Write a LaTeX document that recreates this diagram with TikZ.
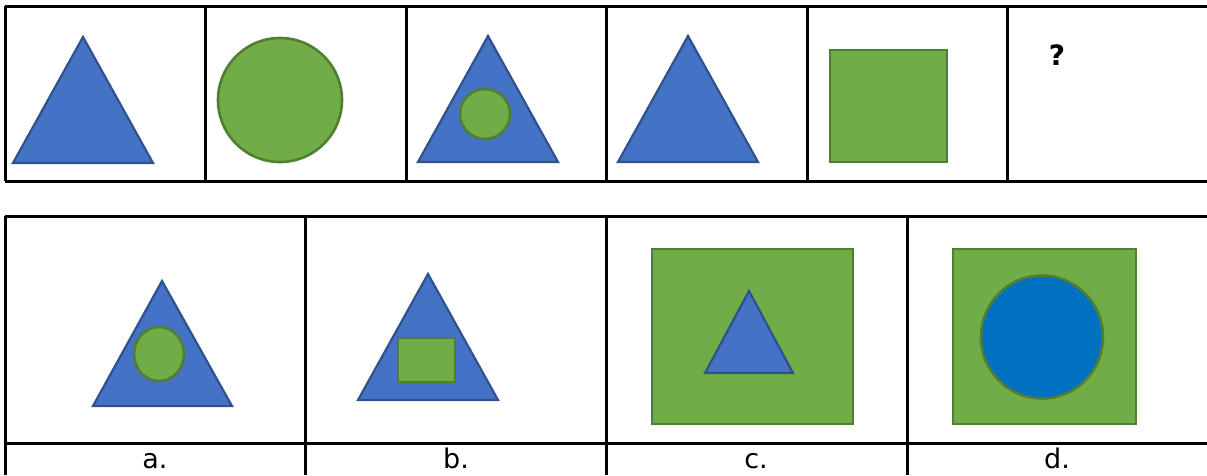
\documentclass[tikz,border=0pt]{standalone}
\usepackage{fontspec}
\setmainfont{DejaVu Sans}
\definecolor{bfill}{HTML}{4472C4}
\definecolor{bline}{HTML}{2F528F}
\definecolor{gfill}{HTML}{70AD47}
\definecolor{gline}{HTML}{507E32}
\definecolor{dblue}{HTML}{0070C0}
\tikzset{
  grid/.style={line width=3pt, black},
  tri/.style={fill=bfill, draw=bline, line width=2.2pt, line join=miter},
  grn/.style={fill=gfill, draw=gline, line width=2.6pt},
  lab/.style={anchor=base, inner sep=0pt, font=\fontsize{27}{32}\selectfont},
}
\begin{document}
\begin{tikzpicture}[x=1pt,y=-1pt]
\useasboundingbox (0,0) rectangle (1207,475);
% top table
\draw[grid] (5,6) -- (1207,6);
\draw[grid] (5,181) -- (1207,181);
\foreach \x in {5,205,406,606,807,1007} \draw[grid] (\x,6) -- (\x,181);
% top shapes
\draw[tri] (83,37) -- (153,163) -- (13,163) -- cycle;
\draw[grn] (280,100) circle (62);
\draw[tri] (488,36) -- (558,162) -- (418,162) -- cycle;
\draw[grn] (485,114) circle (25);
\draw[tri] (688,36) -- (758,162) -- (618,162) -- cycle;
\draw[grn] (830,50) rectangle (947,162);
\node[anchor=base, inner sep=0pt, font=\bfseries\fontsize{28}{32}\selectfont] (q) at (1057,65) {?};
% bottom table
\draw[grid] (5,216) -- (1207,216);
\draw[grid] (5,443) -- (1207,443);
\foreach \x in {5,305,606,907} \draw[grid] (\x,216) -- (\x,475);
% answer shapes
\draw[tri] (162,281) -- (232,406) -- (93,406) -- cycle;
\draw[grn] (159,354) ellipse (25 and 27);
\draw[tri] (428,274) -- (498,400) -- (358,400) -- cycle;
\draw[grn] (398,338) rectangle (455,382);
\draw[grn] (652,249) rectangle (853,424);
\draw[tri] (749,291) -- (793,373) -- (705,373) -- cycle;
\draw[grn] (953,249) rectangle (1136,424);
\draw[fill=dblue, draw=gline, line width=2.6pt] (1042,337) ellipse (61 and 61.5);
% labels
\node[lab] (la) at (155,468) {a.};
\node[lab] (lb) at (456,468) {b.};
\node[lab] (lc) at (756,468) {c.};
\node[lab] (ld) at (1057,468) {d.};
\end{tikzpicture}
\end{document}
